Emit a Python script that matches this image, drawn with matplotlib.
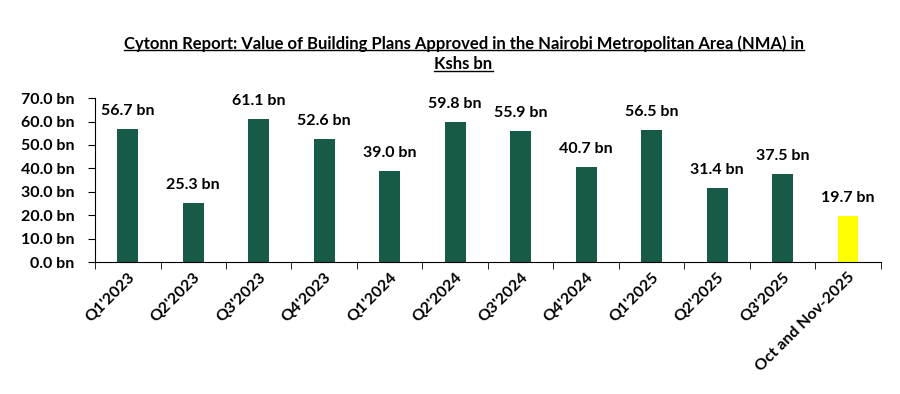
import matplotlib.pyplot as plt
import numpy as np
from matplotlib.ticker import FuncFormatter
from matplotlib.lines import Line2D

plt.rcParams['font.family'] = ['Lato', 'DejaVu Sans']
plt.rcParams['font.weight'] = 'bold'

periods = ["Q1'2023", "Q2'2023", "Q3'2023", "Q4'2023", "Q1'2024", "Q2'2024",
           "Q3'2024", "Q4'2024", "Q1'2025", "Q2'2025", "Q3'2025", "Oct and Nov-2025"]
values = [56.7, 25.3, 61.1, 52.6, 39.0, 59.8, 55.9, 40.7, 56.5, 31.4, 37.5, 19.7]
colors = ['#175a47'] * 11 + ['#ffff00']

fig = plt.figure(figsize=(9, 3.94), dpi=100)
ax = fig.add_axes([0.1056, 0.335, 0.873, 0.416])

x = np.arange(len(periods))
ax.bar(x, values, width=0.32, color=colors)

for xi, v in zip(x, values):
    ax.annotate(f"{v:.1f} bn", (xi, v), xytext=(0, 8), textcoords='offset points',
                ha='center', va='bottom', fontsize=11.5, fontweight='bold')

ax.set_xlim(-0.5, len(periods) - 0.5)
ax.set_ylim(0, 70)
ax.set_yticks(np.arange(0, 71, 10))
ax.yaxis.set_major_formatter(FuncFormatter(lambda v, p: f"{v:.1f} bn"))
ax.set_xticks(x)
ax.set_xticklabels(periods, rotation=45, ha='right', rotation_mode='anchor')
ax.set_xticks(np.arange(-0.5, len(periods)), minor=True)
ax.tick_params(axis='x', which='major', length=0, labelsize=11.5, pad=6)
ax.tick_params(axis='x', which='minor', length=5, direction='out')
ax.tick_params(axis='y', length=5, labelsize=11.5, pad=10)
for lbl in ax.get_xticklabels() + ax.get_yticklabels():
    lbl.set_fontweight('bold')

ax.spines['top'].set_visible(False)
ax.spines['right'].set_visible(False)

# two-line title, underlined like the original
titles = [fig.text(0.515, 0.89, "Cytonn Report: Value of Building Plans Approved in the Nairobi Metropolitan Area (NMA) in",
                   ha='center', va='center', fontsize=12, fontweight='bold'),
          fig.text(0.515, 0.837, "Kshs bn", ha='center', va='center', fontsize=12, fontweight='bold')]

renderer = fig.canvas.get_renderer()
for t in titles:
    bb = t.get_window_extent(renderer).transformed(fig.transFigure.inverted())
    y = bb.y0 + 0.004
    fig.add_artist(Line2D([bb.x0, bb.x1], [y, y], color='black', lw=1.0, transform=fig.transFigure))

fig.savefig('out.png', dpi=100)
